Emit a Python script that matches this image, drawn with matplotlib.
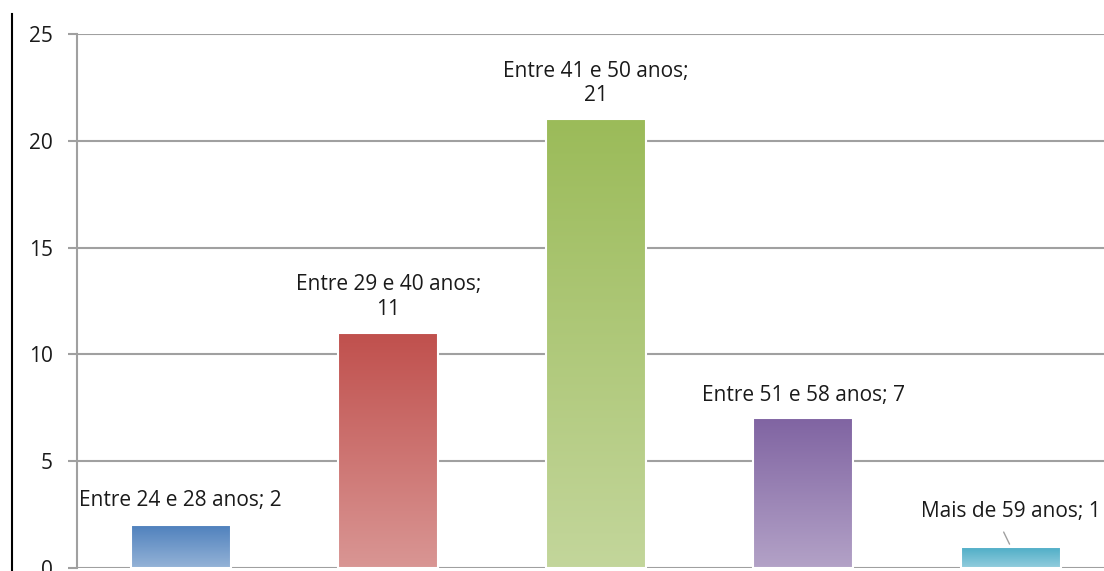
import numpy as np
import matplotlib
matplotlib.use('Agg')
from matplotlib import pyplot as plt
from matplotlib.lines import Line2D
from matplotlib.colors import LinearSegmentedColormap

categorias = ['Entre 24 e 28 anos', 'Entre 29 e 40 anos', 'Entre 41 e 50 anos',
              'Entre 51 e 58 anos', 'Mais de 59 anos']
valores = [2, 11, 21, 7, 1]
rotulos = ['Entre 24 e 28 anos; 2', 'Entre 29 e 40 anos;\n11', 'Entre 41 e 50 anos;\n21',
           'Entre 51 e 58 anos; 7', 'Mais de 59 anos; 1']
cores_topo = ['#4f81bd', '#c0504d', '#9bbb59', '#8064a2', '#4bacc6']
cores_base = ['#95b3d7', '#d99694', '#c3d69b', '#b3a2c7', '#93cddd']
yticks = [0, 5, 10, 15, 20, 25]

plt.rcParams['font.family'] = ['Open Sans', 'DejaVu Sans']

W, H = 1104, 571
fig = plt.figure(figsize=(W / 100, H / 100), dpi=100)
ax = fig.add_axes([77 / W, 3 / H, (1114.5 - 77) / W, (568 - 34) / H])

x = np.arange(len(valores))
barras = ax.bar(x, valores, width=0.48, color='none', edgecolor='white', linewidth=1.5, zorder=3)

# gradiente em cada barra
grad = np.linspace(0, 1, 256).reshape(-1, 1)
for b, ct, cb in zip(barras, cores_topo, cores_base):
    cmap = LinearSegmentedColormap.from_list('g', [cb, ct])
    x0, w, h = b.get_x(), b.get_width(), b.get_height()
    im = ax.imshow(grad, cmap=cmap, origin='lower', aspect='auto',
                   extent=[x0, x0 + w, 0, h], zorder=2)
    im.set_clip_path(b)

# rótulos (deslocamento do centro do texto acima da barra, em pixels)
offs = [25, 36, 36, 23, 35]
for i, (v, r) in enumerate(zip(valores, rotulos)):
    ax.annotate(r, (x[i], v), xytext=(0, offs[i]), textcoords='offset pixels',
                ha='center', va='center', fontsize=15, color='#1a1a1a',
                linespacing=1.2, zorder=4)
# linha guia do último rótulo
ax.annotate('', (x[4], valores[4]), xytext=(x[4] - 0.04, valores[4] + 0.8),
            arrowprops=dict(arrowstyle='-', color='#a0a0a0', lw=1), zorder=4)

ax.set_xlim(-0.5, 4.5)
ax.set_ylim(0, 25)
ax.set_yticks(yticks)
ax.set_xticks([])
ax.yaxis.grid(True, color='#a0a0a0', lw=1.5, zorder=1)
ax.set_axisbelow(True)
for s in ['top', 'right', 'bottom']:
    ax.spines[s].set_visible(False)
ax.spines['left'].set_color('#a0a0a0')
ax.spines['left'].set_linewidth(1.5)
ax.tick_params(axis='y', length=6.5, width=1.5, color='#a0a0a0', pad=11,
               labelsize=15, labelcolor='#1a1a1a')

fig.add_artist(Line2D([12 / W, 12 / W], [0, 1 - 14 / H], color='black', lw=1.5))

plt.savefig('out.png', dpi=100)
